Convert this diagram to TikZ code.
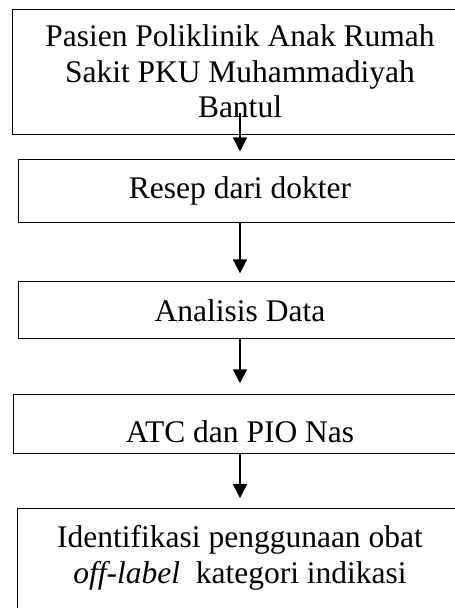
\documentclass[tikz,border=0pt]{standalone}
\usepackage{fontspec}
\setmainfont{Liberation Serif}
\usetikzlibrary{arrows.meta,positioning}

\begin{document}
\begin{tikzpicture}[
  x=1pt, y=1pt,
  box/.style={rectangle, draw, line width=0.9pt, align=center, inner sep=0pt, font=\fontsize{31.5}{35.5}\selectfont},
  arr/.style={draw, line width=1.8pt, -{Triangle[length=14pt,width=14pt]}}
]
  \useasboundingbox (0,0) rectangle (455,-608);
  \clip (0,0) rectangle (455,-608);
  \node[box, minimum width=455pt, minimum height=125pt] (pasien) at (240,-71.5)
    {Pasien Poliklinik Anak Rumah\\Sakit PKU Muhammadiyah\\Bantul};
  \node[box, minimum width=444pt, minimum height=63pt, below=25pt of pasien] (resep) {Resep dari dokter};
  \node[box, minimum width=444pt, minimum height=57pt, below=58pt of resep] (analisis) {Analisis Data};
  \node[box, minimum width=454pt, minimum height=59pt, text height=37pt, text depth=0pt, below=55pt of analisis] (atc) {ATC dan PIO Nas};
  \node[box, minimum width=445pt, inner ysep=17pt, text depth=25pt, below=54pt of atc] (identifikasi)
    {Identifikasi penggunaan obat\\\textit{off-label}~ kategori indikasi};
  \draw[arr] ([yshift=21pt]pasien.south) -- ([yshift=8pt]resep.north);
  \draw[arr] (resep.south) -- ([yshift=8pt]analisis.north);
  \draw[arr] (analisis.south) -- ([yshift=11pt]atc.north);
  \draw[arr] (atc.south) -- ([yshift=10pt]identifikasi.north);
\end{tikzpicture}
\end{document}
